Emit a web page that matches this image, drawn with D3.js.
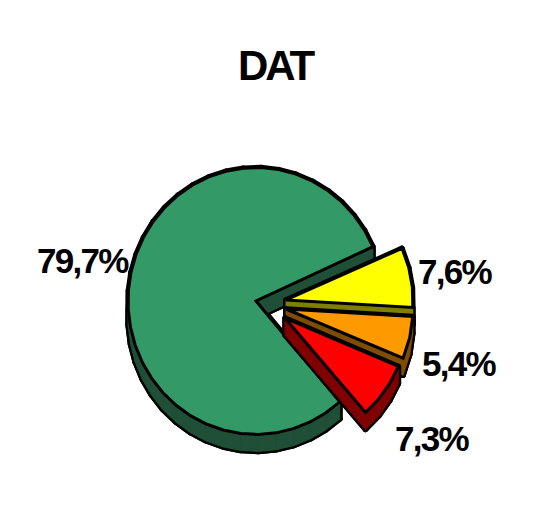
<!DOCTYPE html>
<html><head><meta charset="utf-8">
<script src="https://cdn.jsdelivr.net/npm/d3@7"></script>
<style>html,body{margin:0;background:#fff}svg{display:block}text{font-family:"Liberation Sans",Arial,sans-serif;font-weight:bold;fill:#000}</style>
</head><body><svg id="c" width="545" height="526"></svg>
<script>
const categories = ["Yellow", "Orange", "Red", "Green"];
const values = [7.6, 5.4, 7.3, 79.7];
const labels = ["7,6%", "5,4%", "7,3%", "79,7%"];
const topColors = ["#ffff00", "#ff9900", "#ff0000", "#339966"];
const sideColors = ["#808000", "#804c00", "#800000", "#1f4f36"];
const centers = [[286, 300], [286, 309], [285, 318], [256, 301]];
const radiiX = [127, 127, 123, 128];
const radiiY = [127, 127, 125, 133.5];
const labelPos = [[418, 284], [422, 376], [395, 451], [37, 273]];
const title = "DAT";

const svg = d3.select("#c");
const depth = 17, step = 8 * Math.PI / 180;
const unit = d3.scaleLinear().domain([0, 1]);
const arcs = d3.pie().sort(null).value(d => d)
  .startAngle(66 * Math.PI / 180).endAngle((66 + 360) * Math.PI / 180)(values);
const line = d3.line().curve(d3.curveLinearClosed);

function poly(a, c, i) {
  const sx = unit.copy().range([0, radiiX[i]]), sy = unit.copy().range([0, radiiY[i]]);
  const pts = [c];
  const n = Math.max(2, Math.round((a.endAngle - a.startAngle) / step));
  d3.range(n + 1).forEach(k => {
    const t = a.startAngle + (a.endAngle - a.startAngle) * k / n;
    pts.push([c[0] + sx(Math.sin(t)), c[1] - sy(Math.cos(t))]);
  });
  return pts;
}
const shift = p => [p[0], p[1] + depth];

// back to front: green first, then yellow, orange, red
[3, 0, 1, 2].forEach(i => {
  const pts = poly(arcs[i], centers[i], i);
  const low = pts.map(shift);
  const shapes = [low].concat(pts.map((p, k) => {
    const q = pts[(k + 1) % pts.length];
    return [p, q, shift(q), shift(p)];
  }));
  const g = svg.append("g");
  g.selectAll(".o").data(shapes).join("path").attr("d", line)
    .attr("fill", "#000").attr("stroke", "#000").attr("stroke-width", 5.5).attr("stroke-linejoin", "round");
  g.selectAll(".f").data(shapes).join("path").attr("d", line)
    .attr("fill", sideColors[i]).attr("stroke", sideColors[i]).attr("stroke-width", 0.5);
  g.append("path").attr("d", line(pts)).attr("fill", topColors[i])
    .attr("stroke", "#000").attr("stroke-width", 3).attr("stroke-linejoin", "miter");
});

svg.selectAll(".lab").data(labels).join("text").attr("class", "lab")
  .attr("x", (d, i) => labelPos[i][0]).attr("y", (d, i) => labelPos[i][1])
  .attr("font-size", 35).attr("letter-spacing", -1.7).text(d => d);
svg.append("text").attr("x", 238).attr("y", 80).attr("font-size", 42).attr("letter-spacing", -3).text(title);
</script></body></html>
